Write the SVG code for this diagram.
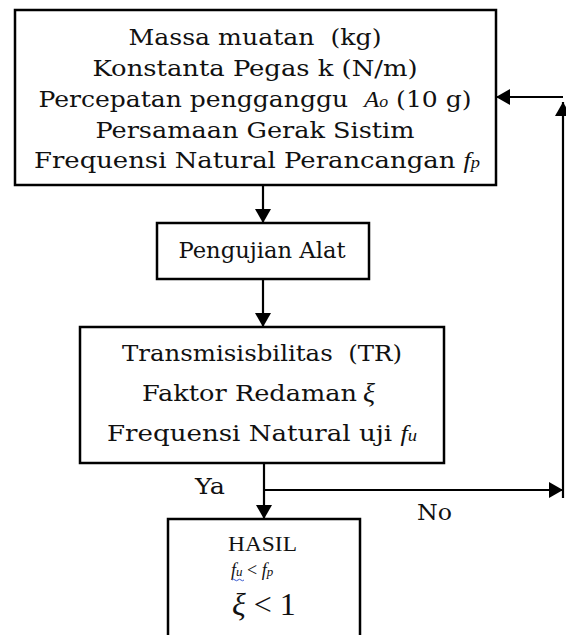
<svg xmlns="http://www.w3.org/2000/svg" width="566" height="635" viewBox="0 0 566 635">
<style>
  .box { fill: #fff; stroke: #000; stroke-width: 2.5; }
  .t { font-family: "DejaVu Serif", "Liberation Serif", serif; font-size: 22.5px; fill: #111; white-space: pre; }
  .tm { font-family: "Liberation Serif", "DejaVu Serif", serif; fill: #111; white-space: pre; }
  .it { font-style: italic; font-family: "Liberation Serif", serif; }
  .con { fill: none; stroke: #000; stroke-width: 2.2; }
</style>
<defs>
  <marker id="arr" viewBox="0 0 14 16" refX="14" refY="8" markerWidth="14" markerHeight="16" markerUnits="userSpaceOnUse" orient="auto">
    <path d="M0,0 L14,8 L0,16 z" fill="#000"/>
  </marker>
</defs>
<rect width="566" height="635" fill="#fff"/>

<g id="connectors">
  <path class="con" d="M263,185 V223" marker-end="url(#arr)"/>
  <path class="con" d="M263,279 V327" marker-end="url(#arr)"/>
  <path class="con" d="M264,463 V519" marker-end="url(#arr)"/>
  <path class="con" d="M264,490 H563" marker-end="url(#arr)"/>
  <path class="con" d="M563,498 V102" marker-end="url(#arr)"/>
  <path class="con" d="M563,97 H496" marker-end="url(#arr)"/>
</g>

<g id="node-input">
  <rect class="box" x="15" y="10" width="481" height="175"/>
  <text class="t" x="255" y="45" text-anchor="middle" textLength="253" lengthAdjust="spacingAndGlyphs">Massa muatan  (kg)</text>
  <text class="t" x="255" y="76" text-anchor="middle" textLength="325" lengthAdjust="spacingAndGlyphs">Konstanta Pegas k (N/m)</text>
  <text class="t" x="255" y="107" text-anchor="middle" textLength="433" lengthAdjust="spacingAndGlyphs">Percepatan pengganggu  <tspan class="it">A</tspan><tspan class="it" font-size="16">o</tspan> (10 g)</text>
  <text class="t" x="255" y="138" text-anchor="middle" textLength="319" lengthAdjust="spacingAndGlyphs">Persamaan Gerak Sistim</text>
  <text class="t" x="257" y="168" text-anchor="middle" textLength="446" lengthAdjust="spacingAndGlyphs">Frequensi Natural Perancangan <tspan class="it">f</tspan><tspan class="it" font-size="16">p</tspan></text>
</g>

<g id="node-test">
  <rect class="box" x="157" y="223" width="212" height="56"/>
  <text class="t" x="262" y="258" text-anchor="middle" textLength="167" lengthAdjust="spacingAndGlyphs">Pengujian Alat</text>
</g>

<g id="node-measure">
  <rect class="box" x="80" y="327" width="364" height="136"/>
  <text class="t" x="262" y="361" text-anchor="middle" textLength="280" lengthAdjust="spacingAndGlyphs">Transmisisbilitas  (TR)</text>
  <text class="t" x="142" y="401" textLength="215" lengthAdjust="spacingAndGlyphs">Faktor Redaman</text>
  <text class="tm it" x="363" y="402" font-size="28">ξ</text>
  <text class="t" x="107" y="441" textLength="310" lengthAdjust="spacingAndGlyphs">Frequensi Natural uji <tspan class="it">f</tspan><tspan class="it" font-size="16">u</tspan></text>
</g>

<g id="labels">
  <text class="t" x="195" y="494" textLength="30" lengthAdjust="spacingAndGlyphs">Ya</text>
  <text class="t" x="417" y="520" textLength="35" lengthAdjust="spacingAndGlyphs">No</text>
</g>

<g id="node-result">
  <rect class="box" x="168" y="519" width="192" height="130"/>
  <text class="tm" x="228" y="551" font-size="21" textLength="69" lengthAdjust="spacingAndGlyphs">HASIL</text>
  <text class="tm" x="231" y="576" font-size="18"><tspan class="it">f</tspan><tspan class="it" font-size="13">u</tspan> &lt; <tspan class="it">f</tspan><tspan class="it" font-size="13">p</tspan></text>
  <path d="M232,580 q1.5,-1.5 3,0 t3,0 t3,0 t3,0" fill="none" stroke="#3a5bd0" stroke-width="1"/>
  <text class="tm" x="232" y="615" font-size="32"><tspan class="it">ξ</tspan> &lt; 1</text>
</g>
</svg>
